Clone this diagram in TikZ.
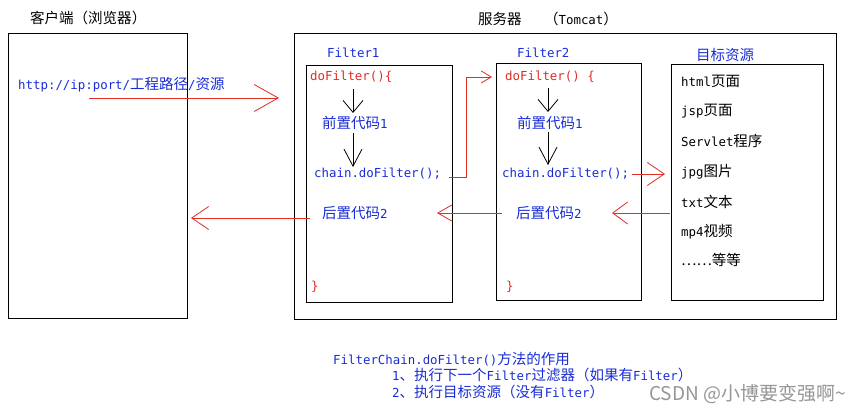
\documentclass[tikz,border=0pt]{standalone}
\usepackage{fontspec}
\setmainfont{DejaVu Sans Mono}
\newfontfamily\cjk[Scale=1.17]{Noto Sans CJK SC}
\newfontfamily\wmfont{Noto Sans CJK SC}
\usetikzlibrary{arrows.meta}
\definecolor{tblue}{RGB}{25,45,215}
\definecolor{tred}{RGB}{225,45,35}
\definecolor{wmgray}{RGB}{150,150,150}
\newcommand{\lbr}{\symbol{123}}
\newcommand{\rbr}{\symbol{125}}
\begin{document}
\begin{tikzpicture}[x=1pt,y=-1pt,
  font=\fontsize{12.4}{14}\selectfont,
  box/.style={draw=black, line width=1pt, inner sep=0pt, anchor=north west},
  lbl/.style={inner sep=0pt, anchor=west},
  txtblue/.style={lbl, text=tblue},
  txtred/.style={lbl, text=tred},
  txtblack/.style={lbl, text=black},
  rarr/.style 2 args={draw=tred, line width=0.8pt, -{Straight Barb[length=#1,width=#2]}},
  karr/.style 2 args={draw=black, line width=0.8pt, -{Straight Barb[length=#1,width=#2]}},
]
\useasboundingbox[fill=white] (0,0) rectangle (866,411);

% boxes
\node (client) [box, minimum width=179pt, minimum height=285pt] at (8,33) {};
\node (server) [box, minimum width=542pt, minimum height=286pt] at (294,33) {};
\node (f1) [box, minimum width=146pt, minimum height=237pt] at (306,65) {};
\node (f2) [box, minimum width=145pt, minimum height=237pt] at (496,63) {};
\node (tg) [box, minimum width=152pt, minimum height=236pt] at (671,64) {};

% titles
\node (tclient) [txtblack] at (30,18) {\cjk 客户端（浏览器）};
\node (tserver) [txtblack] at (478,19) {{\cjk 服务器}\ \ \ {\cjk （}Tomcat{\cjk ）}};
\node (url) [txtblue] at (18,85) {http://ip:port/{\cjk 工程路径}/{\cjk 资源}};

% Filter1
\node (lf1) [txtblue] at (327,53) {Filter1};
\node (do1) [txtred] at (310,77) {doFilter()\lbr};
\node (pre1) [txtblue] at (322,123) {{\cjk 前置代码}1};
\node (ch1) [txtblue] at (314,174) {chain.doFilter();};
\node (post1) [txtblue] at (322,213) {{\cjk 后置代码}2};
\node (end1) [txtred] at (311,287) {\rbr};

% Filter2
\node (lf2) [txtblue] at (517,53) {Filter2};
\node (do2) [txtred] at (505,77) {doFilter()\ \lbr};
\node (pre2) [txtblue] at (517,123) {{\cjk 前置代码}1};
\node (ch2) [txtblue] at (502,174) {chain.doFilter();};
\node (post2) [txtblue] at (516,213) {{\cjk 后置代码}2};
\node (end2) [txtred] at (506,287) {\rbr};

% target resources
\node (ltg) [txtblue] at (696,55) {\cjk 目标资源};
\node (r1) [txtblack] at (681,81) {html{\cjk 页面}};
\node (r2) [txtblack] at (681,111) {jsp{\cjk 页面}};
\node (r3) [txtblack] at (681,141) {Servlet{\cjk 程序}};
\node (r4) [txtblack] at (681,172) {jpg{\cjk 图片}};
\node (r5) [txtblack] at (681,202) {txt{\cjk 文本}};
\node (r6) [txtblack] at (681,232) {mp4{\cjk 视频}};
\node (r7) [txtblack] at (681,260) {\cjk ……等等};

% bottom notes
\node (n1) [txtblue] at (333,359) {FilterChain.doFilter(){\cjk 方法的作用}};
\node (n2) [txtblue] at (392,375) {1{\cjk 、执行下一个}Filter{\cjk 过滤器（如果有}Filter{\cjk ）}};
\node (n3) [txtblue] at (392,392) {2{\cjk 、执行目标资源（没有}Filter{\cjk ）}};
\node (wm) [lbl, text=wmgray, text height=14pt, text depth=2pt,
  font=\wmfont\fontsize{19}{22}\selectfont] at (649,394) {CSDN @小博要变强啊\symbol{126}};

% black flow arrows
\coordinate (k1a) at (353,89);  \coordinate (k1b) at (353,113);
\coordinate (k2a) at (353,133); \coordinate (k2b) at (353,167);
\coordinate (k3a) at (548,88);  \coordinate (k3b) at (548,112);
\coordinate (k4a) at (548,132); \coordinate (k4b) at (548,165);
\draw[karr={12pt}{20pt}] (k1a) -- (k1b);
\draw[karr={17pt}{18pt}] (k2a) -- (k2b);
\draw[karr={12pt}{20pt}] (k3a) -- (k3b);
\draw[karr={17pt}{18pt}] (k4a) -- (k4b);

% red request/response arrows
\coordinate (a1s) at (89,98);   \coordinate (a1e) at (279,98);
\coordinate (a2s) at (449,177); \coordinate (a2m1) at (466,177);
\coordinate (a2m2) at (466,77); \coordinate (a2e) at (492,77);
\coordinate (a3s) at (632,174); \coordinate (a3e) at (665,174);
\coordinate (a4s) at (670,213); \coordinate (a4e) at (612,213);
\coordinate (a5s) at (502,213); \coordinate (a5e) at (437,213);
\coordinate (a6s) at (310,218); \coordinate (a6e) at (191,218);
\draw[rarr={24pt}{27pt}] (a1s) -- (a1e);
\draw[rarr={10pt}{12pt}] (a2s) -- (a2m1) -- (a2m2) -- (a2e);
\draw[rarr={17pt}{23pt}] (a3s) -- (a3e);
\draw[rarr={15pt}{22pt}] (a4s) -- (a4e);
\draw[rarr={14pt}{16pt}] (a5s) -- (a5e);
\draw[rarr={17pt}{23pt}] (a6s) -- (a6e);
\end{tikzpicture}
\end{document}
